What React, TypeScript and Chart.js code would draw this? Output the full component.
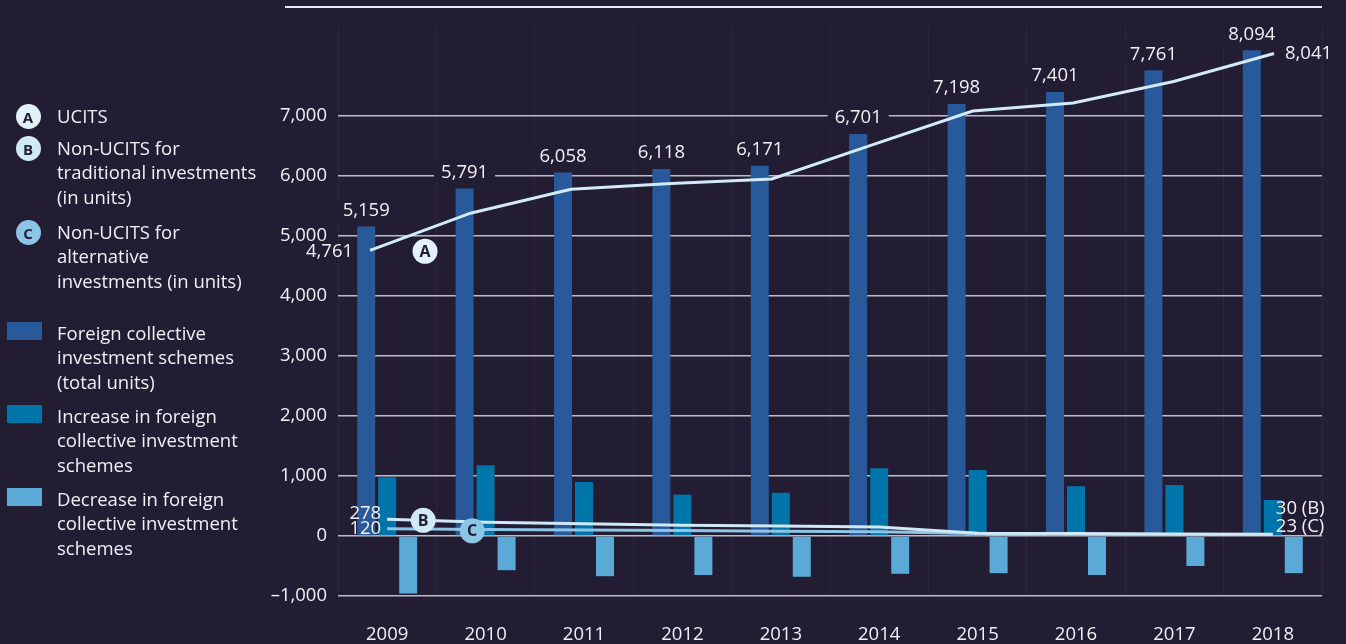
import React, { useEffect, useRef } from 'react';
import { Chart, registerables } from 'chart.js';

Chart.register(...registerables);

// ---------- data ----------
const years = ['2009', '2010', '2011', '2012', '2013', '2014', '2015', '2016', '2017', '2018'];
const totalSchemes = [5159, 5791, 6058, 6118, 6171, 6701, 7198, 7401, 7761, 8094];
const increases = [980, 1180, 900, 690, 720, 1130, 1100, 830, 850, 600];
const decreases = [-960, -570, -670, -650, -680, -630, -620, -650, -500, -620];
const ucits = [4761, 5380, 5780, 5875, 5950, 6520, 7083, 7217, 7575, 8041];
const nonUcitsTraditional = [278, 230, 205, 180, 165, 150, 45, 40, 35, 30];
const nonUcitsAlternative = [120, 110, 100, 90, 80, 70, 40, 30, 25, 23];
const yTickValues = [-1000, 0, 1000, 2000, 3000, 4000, 5000, 6000, 7000];

const legendSeries = [
  { letter: 'A', lines: ['UCITS'] },
  { letter: 'B', lines: ['Non-UCITS for', 'traditional investments', '(in units)'] },
  { letter: 'C', lines: ['Non-UCITS for', 'alternative', 'investments (in units)'] },
];
const legendBars = [
  ['Foreign collective', 'investment schemes', '(total units)'],
  ['Increase in foreign', 'collective investment', 'schemes'],
  ['Decrease in foreign', 'collective investment', 'schemes'],
];

// ---------- styles ----------
const BG = '#221d33';
const TEXT = '#f1f0f6';
const FONT = '"Open Sans", "Noto Sans", sans-serif';
const FS = 18.5;
const C_TOTAL = '#28599a';
const C_INC = '#0075aa';
const C_DEC = '#5ba9d6';
const C_A = '#d2eaf9';
const C_B = '#d0e9f7';
const C_C = '#8cc5e6';
const CIRCLE_A = '#e2f1fa';

const Y_MIN = -1000;
const Y_MAX = 8500;
const PAD = { left: 268, right: 24, top: 26, bottom: 0 };
const Y_AXIS_W = 70;
const X_AXIS_H = 48;

const fmt = (v: number) => (v < 0 ? '\u2013' : '') + Math.abs(v).toLocaleString('en-US');

function drawBadge(ctx: CanvasRenderingContext2D, x: number, y: number, fill: string, letter: string) {
  ctx.save();
  ctx.beginPath();
  ctx.arc(x, y, 12.5, 0, Math.PI * 2);
  ctx.fillStyle = fill;
  ctx.fill();
  ctx.fillStyle = BG;
  ctx.font = `bold 16px ${FONT}`;
  ctx.textAlign = 'center';
  ctx.textBaseline = 'middle';
  ctx.fillText(letter, x, y + 1);
  ctx.restore();
}

const totalsPlugin = {
  id: 'totalsLabels',
  afterDatasetsDraw(chart: any) {
    const ctx: CanvasRenderingContext2D = chart.ctx;
    ctx.save();
    ctx.font = `${FS}px ${FONT}`;
    ctx.textBaseline = 'middle';
    ctx.textAlign = 'center';
    chart.getDatasetMeta(0).data.forEach((bar: any, i: number) => {
      const t = fmt(totalSchemes[i]);
      const w = ctx.measureText(t).width;
      const cx = bar.x;
      const cy = bar.y - 16;
      ctx.fillStyle = BG;
      ctx.fillRect(cx - w / 2 - 7, cy - 10, w + 14, 20);
      ctx.fillStyle = TEXT;
      ctx.fillText(t, cx, cy);
    });
    ctx.restore();
  },
};

const lineLabelsPlugin = {
  id: 'lineLabels',
  afterDatasetsDraw(chart: any) {
    const ctx: CanvasRenderingContext2D = chart.ctx;
    ctx.save();
    ctx.font = `${FS}px ${FONT}`;
    ctx.textBaseline = 'middle';
    ctx.fillStyle = TEXT;

    const aPts = chart.getDatasetMeta(0).data;
    const bPts = chart.getDatasetMeta(1).data;
    const cPts = chart.getDatasetMeta(2).data;
    const a0 = aPts[0], aN = aPts[aPts.length - 1];
    const b0 = bPts[0], bN = bPts[bPts.length - 1];
    const c0 = cPts[0], cN = cPts[cPts.length - 1];

    ctx.textAlign = 'right';
    ctx.fillText(fmt(ucits[0]), a0.x - 17, a0.y + 1);
    ctx.fillText(fmt(nonUcitsTraditional[0]), b0.x - 6, b0.y - 6);
    ctx.fillText(fmt(nonUcitsAlternative[0]), c0.x - 6, c0.y);
    ctx.textAlign = 'left';
    ctx.fillText(fmt(ucits[ucits.length - 1]), aN.x + 11, aN.y);
    ctx.fillText(`${nonUcitsTraditional[nonUcitsTraditional.length - 1]} (B)`, bN.x + 3, bN.y - 25);
    ctx.fillText(`${nonUcitsAlternative[nonUcitsAlternative.length - 1]} (C)`, cN.x + 3, cN.y - 8);
    ctx.restore();

    drawBadge(ctx, a0.x + 55, a0.y + 1, CIRCLE_A, 'A');
    drawBadge(ctx, b0.x + 36, b0.y + 1, C_B, 'B');
    drawBadge(ctx, c0.x + 85, c0.y + 2, C_C, 'C');
  },
};

export default function App() {
  const barRef = useRef<HTMLCanvasElement>(null);
  const lineRef = useRef<HTMLCanvasElement>(null);

  useEffect(() => {
    if (!barRef.current || !lineRef.current) return;
    Chart.defaults.font.family = FONT;

    const barChart = new Chart(barRef.current, {
      type: 'bar',
      data: {
        labels: years,
        datasets: [
          { label: 'Foreign collective investment schemes (total units)', data: totalSchemes, backgroundColor: C_TOTAL },
          { label: 'Increase in foreign collective investment schemes', data: increases, backgroundColor: C_INC },
          { label: 'Decrease in foreign collective investment schemes', data: decreases, backgroundColor: C_DEC },
        ],
      },
      options: {
        responsive: false,
        animation: false,
        datasets: { bar: { categoryPercentage: 0.64, barPercentage: 0.857, borderWidth: 0 } },
        layout: { padding: PAD },
        plugins: { legend: { display: false }, tooltip: { enabled: false } },
        scales: {
          x: {
            type: 'category',
            offset: true,
            grid: { color: 'rgba(255,255,255,0.045)', drawTicks: false, offset: true },
            border: { display: false },
            ticks: { color: TEXT, font: { family: FONT, size: FS }, padding: 28, maxRotation: 0 },
            afterFit: (s: any) => { s.height = X_AXIS_H; },
          },
          y: {
            min: Y_MIN,
            max: Y_MAX,
            afterFit: (s: any) => { s.width = Y_AXIS_W; },
            afterBuildTicks: (s: any) => { s.ticks = yTickValues.map((v) => ({ value: v })); },
            grid: { color: '#bebdc7', lineWidth: 1.5, drawTicks: false },
            border: { display: false },
            ticks: { color: TEXT, font: { family: FONT, size: FS }, padding: 11, callback: (v: any) => fmt(Number(v)) },
          },
        },
      } as any,
      plugins: [totalsPlugin],
    });

    const lineCommon = { pointRadius: 0, borderWidth: 3, tension: 0, fill: false };
    const lineChart = new Chart(lineRef.current, {
      type: 'line',
      data: {
        labels: years,
        datasets: [
          {
            ...lineCommon,
            label: 'UCITS',
            xAxisID: 'x2',
            data: years.map((yr, i) => ({ x: Number(yr), y: ucits[i] })),
            borderColor: C_A,
          },
          { ...lineCommon, label: 'Non-UCITS for traditional investments', data: nonUcitsTraditional, borderColor: C_B },
          { ...lineCommon, label: 'Non-UCITS for alternative investments', data: nonUcitsAlternative, borderColor: C_C },
        ] as any,
      },
      options: {
        responsive: false,
        animation: false,
        layout: { padding: { left: PAD.left + Y_AXIS_W, right: PAD.right, top: PAD.top, bottom: PAD.bottom + X_AXIS_H } },
        plugins: { legend: { display: false }, tooltip: { enabled: false } },
        scales: {
          x: { type: 'category', offset: true, display: false },
          x2: { type: 'linear', offset: false, display: false, min: 2008.681, max: 2018.478 },
          y: { min: Y_MIN, max: Y_MAX, display: false },
        },
      } as any,
      plugins: [lineLabelsPlugin],
    });

    return () => {
      barChart.destroy();
      lineChart.destroy();
    };
  }, []);

  const lh = 24.4;
  const seriesTops = [104, 136, 220];
  const seriesColors = [CIRCLE_A, C_B, C_C];
  const circleY = [116, 148, 232];
  const rectTops = [322, 405, 488];
  const barColors = [C_TOTAL, C_INC, C_DEC];
  const canvasStyle: React.CSSProperties = { position: 'absolute', left: 0, top: 0, width: 1346, height: 644 };

  return (
    <div style={{ position: 'fixed', left: 0, top: 0, width: 1346, height: 644, background: BG, overflow: 'hidden', fontFamily: FONT }}>
      <canvas ref={barRef} width={1346} height={644} style={canvasStyle} />
      <canvas ref={lineRef} width={1346} height={644} style={canvasStyle} />
      <div style={{ position: 'absolute', left: 285, top: 6, width: 1037, height: 2, background: '#e8e8ef' }} />
      {legendSeries.map((s, i) => (
        <React.Fragment key={s.letter}>
          <div
            style={{
              position: 'absolute', left: 15.5, top: circleY[i] - 12.5, width: 25, height: 25, borderRadius: '50%',
              background: seriesColors[i], color: BG, fontWeight: 700, fontSize: 15, lineHeight: '26px', textAlign: 'center',
            }}
          >
            {s.letter}
          </div>
          <div style={{ position: 'absolute', left: 57, top: seriesTops[i], color: TEXT, fontSize: FS, lineHeight: `${lh}px`, whiteSpace: 'nowrap' }}>
            {s.lines.map((l) => <div key={l}>{l}</div>)}
          </div>
        </React.Fragment>
      ))}
      {legendBars.map((lines, i) => (
        <React.Fragment key={i}>
          <div style={{ position: 'absolute', left: 7, top: rectTops[i], width: 35, height: 18, background: barColors[i] }} />
          <div style={{ position: 'absolute', left: 57, top: rectTops[i] - 1, color: TEXT, fontSize: FS, lineHeight: `${lh}px`, whiteSpace: 'nowrap' }}>
            {lines.map((l) => <div key={l}>{l}</div>)}
          </div>
        </React.Fragment>
      ))}
    </div>
  );
}
